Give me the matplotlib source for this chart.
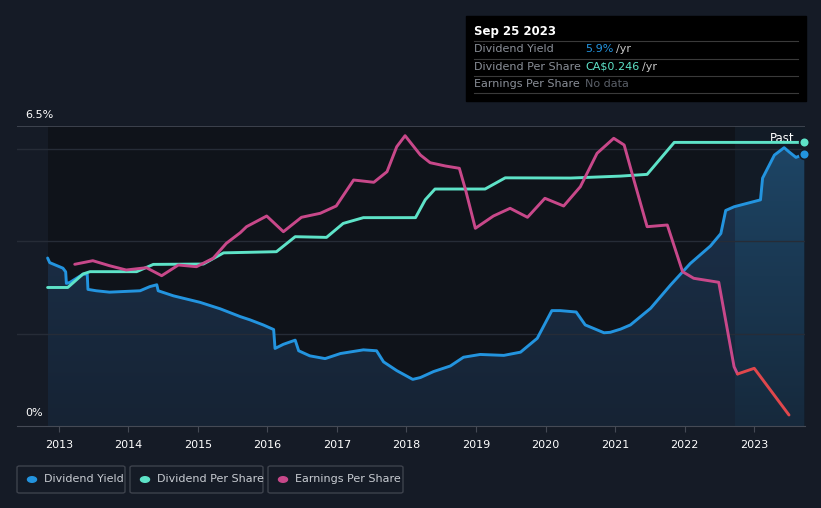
import numpy as np
import matplotlib.pyplot as plt
from matplotlib.patches import FancyBboxPatch, Rectangle
from matplotlib.colors import LinearSegmentedColormap

# values
yield_years = [2012.84, 2012.87, 2013.06, 2013.10, 2013.11, 2013.16, 2013.35, 2013.41, 2013.42,
               2013.54, 2013.73, 2014.17, 2014.31, 2014.41, 2014.43, 2014.65, 2015.03, 2015.32,
               2015.61, 2015.75, 2015.94, 2016.09, 2016.11, 2016.23, 2016.40, 2016.45, 2016.61,
               2016.83, 2017.05, 2017.38, 2017.57, 2017.67, 2017.86, 2018.09, 2018.20, 2018.39,
               2018.63, 2018.82, 2019.06, 2019.40, 2019.64, 2019.88, 2020.09, 2020.21, 2020.44,
               2020.57, 2020.84, 2020.93, 2021.08, 2021.22, 2021.51, 2021.80, 2022.08, 2022.37,
               2022.52, 2022.59, 2022.71, 2023.09, 2023.12, 2023.29, 2023.43, 2023.50, 2023.60,
               2023.72]
yield_pct = [3.64, 3.54, 3.42, 3.34, 3.09, 3.11, 3.29, 3.29, 2.96,
             2.93, 2.90, 2.93, 3.02, 3.06, 2.93, 2.82, 2.68, 2.54,
             2.37, 2.30, 2.19, 2.09, 1.68, 1.77, 1.86, 1.63, 1.52,
             1.46, 1.57, 1.65, 1.63, 1.39, 1.20, 1.01, 1.05, 1.18,
             1.30, 1.49, 1.55, 1.53, 1.60, 1.90, 2.50, 2.50, 2.47,
             2.19, 2.02, 2.03, 2.10, 2.19, 2.55, 3.06, 3.52, 3.90,
             4.17, 4.67, 4.75, 4.90, 5.37, 5.87, 6.03, 5.94, 5.82,
             5.89]

dps_years = [2012.84, 2013.13, 2013.35, 2013.45, 2014.12, 2014.36, 2015.08, 2015.37, 2016.13,
             2016.40, 2016.85, 2017.09, 2017.38, 2018.13, 2018.27, 2018.41, 2019.13, 2019.42,
             2020.36, 2021.08, 2021.46, 2021.85, 2023.72]
dps = [0.120, 0.120, 0.1317, 0.1337, 0.1337, 0.140, 0.1403, 0.150, 0.151,
       0.164, 0.1634, 0.1755, 0.1805, 0.1805, 0.196, 0.2053, 0.2053, 0.215,
       0.2148, 0.2165, 0.218, 0.2457, 0.2457]

eps_years = [2013.23, 2013.49, 2013.73, 2013.97, 2014.26, 2014.48, 2014.72, 2014.98, 2015.22,
             2015.41, 2015.61, 2015.70, 2015.99, 2016.23, 2016.49, 2016.76, 2016.99, 2017.24,
             2017.53, 2017.72, 2017.86, 2017.98, 2018.20, 2018.34, 2018.56, 2018.76, 2018.85,
             2018.99, 2019.25, 2019.49, 2019.74, 2019.99, 2020.26, 2020.50, 2020.74, 2020.98,
             2021.13, 2021.27, 2021.46, 2021.75, 2021.97, 2022.13, 2022.49, 2022.71, 2022.76,
             2023.00, 2023.50]
eps = [0.1617, 0.1653, 0.1603, 0.156, 0.1583, 0.1503, 0.161, 0.1593, 0.1677,
       0.1827, 0.1933, 0.1993, 0.21, 0.1943, 0.2087, 0.2127, 0.22, 0.246,
       0.2437, 0.2543, 0.2793, 0.2903, 0.271, 0.2633, 0.26, 0.2577, 0.236,
       0.1977, 0.21, 0.2177, 0.2087, 0.2277, 0.22, 0.2393, 0.2727, 0.2877,
       0.281, 0.246, 0.1993, 0.201, 0.1543, 0.1477, 0.1437, 0.0593, 0.052,
       0.0577, 0.011]

year_ticks = list(range(2013, 2024))
past_start = 2022.73

BG = '#151b26'
BLUE = '#2394df'
TEAL = '#5ee3c8'
PINK = '#c8488a'
RED = '#e0474c'

fig = plt.figure(figsize=(8.21, 5.08), dpi=100, facecolor=BG)
W, H = 821, 508
ax = fig.add_axes([17 / W, (H - 426) / H, (805 - 17) / W, 300 / H])
ax.set_facecolor(BG)
xmax = 2023.73
ax.set_xlim(2012.40, xmax)
ax.set_ylim(0, 6.5)

# shaded regions
ax.axvspan(yield_years[0], past_start, color='#0f131a', lw=0, zorder=0)
ax.axvspan(past_start, xmax, color='#121b26', lw=0, zorder=0)

# gradient fill under the yield line
poly = ax.fill_between(yield_years, yield_pct, 0, color='none', lw=0)
grad = np.linspace(0, 1, 256).reshape(-1, 1)
cm_main = LinearSegmentedColormap.from_list('m', ['#162334', '#1c3450'])
cm_past = LinearSegmentedColormap.from_list('p', ['#16293c', '#1e4768'])
for x0, x1, cm in [(yield_years[0], past_start, cm_main), (past_start, xmax, cm_past)]:
    im = ax.imshow(grad, cmap=cm, origin='lower', aspect='auto', extent=[x0, x1, 0, 6.5], zorder=1)
    im.set_clip_path(poly.get_paths()[0], transform=ax.transData)

for g in [2, 4, 6]:
    ax.axhline(g, color='#262c37', lw=1, zorder=2)
ax.axhline(6.5, color='#454a55', lw=1.2, zorder=2)

ax.plot(yield_years, yield_pct, color=BLUE, lw=2.1, zorder=5, solid_capstyle='round')

ax2 = ax.twinx()
ax2.set_ylim(0, 0.2599)
ax2.plot(dps_years, dps, color=TEAL, lw=2.1, zorder=4, solid_capstyle='round')

ax3 = ax.twinx()
ax3.set_ylim(0, 0.30)
ey = np.array(eps_years)
ev = np.array(eps)
cut = np.searchsorted(ey, past_start)
ax3.plot(ey[:cut + 1], ev[:cut + 1], color=PINK, lw=2.1, solid_capstyle='round')
ax3.plot(ey[cut:], ev[cut:], color=RED, lw=2.1, solid_capstyle='round')

# end markers
ax2.plot(dps_years[-1], dps[-1], 'o', ms=7, color=TEAL, mec=BG, mew=1.2, clip_on=False, zorder=6)
ax.plot(yield_years[-1], yield_pct[-1], 'o', ms=7, color=BLUE, mec=BG, mew=1.2, clip_on=False, zorder=6)
ax.text(2023.58, 6.08, 'Past', color='white', fontsize=8.5, ha='right', va='bottom', zorder=7)

for a in (ax, ax2, ax3):
    for s in a.spines.values():
        s.set_visible(False)
ax2.set_yticks([])
ax3.set_yticks([])
ax.set_yticks([])
ax.spines['bottom'].set_visible(True)
ax.spines['bottom'].set_color('#454a55')
ax.set_xticks(year_ticks)
ax.set_xticklabels([str(y) for y in year_ticks])
ax.tick_params(axis='x', colors='#454a55', length=4, labelcolor='white', labelsize=8, pad=6)

fig.text(25 / W, 1 - 115 / H, '6.5%', color='white', fontsize=8, va='center')
fig.text(25 / W, 1 - 413 / H, '0%', color='white', fontsize=8, va='center')

# tooltip box
fig.patches.append(Rectangle((466 / W, 1 - 101 / H), 340 / W, 85 / H, transform=fig.transFigure,
                             color='black', zorder=10))
fig.text(474 / W, 1 - 31 / H, 'Sep 25 2023', color='white', fontsize=8.5, fontweight='bold',
         va='center', zorder=11)
rows = [('Dividend Yield', '5.9%', BLUE), ('Dividend Per Share', 'CA$0.246', TEAL),
        ('Earnings Per Share', 'No data', '#5a5f68')]
for i, (lab, val, col) in enumerate(rows):
    yy = 1 - (49 + i * 17.5) / H
    fig.text(474 / W, yy, lab, color='#8a8f98', fontsize=8, va='center', zorder=11)
    t = fig.text(585 / W, yy, val, color=col, fontsize=8, va='center', zorder=11)
    if val != 'No data':
        fig.canvas.draw()
        bb = t.get_window_extent()
        fig.text((bb.x1 + 3) / W, yy, '/yr', color='#c8c8c8', fontsize=8, va='center', zorder=11)
    ly = 1 - (41 + i * 17.5) / H
    fig.lines.append(plt.Line2D([474 / W, 798 / W], [ly, ly], transform=fig.transFigure,
                                color='#3a3a3a', lw=0.8, zorder=11))
fig.lines.append(plt.Line2D([474 / W, 798 / W], [1 - 93 / H, 1 - 93 / H], transform=fig.transFigure,
                            color='#3a3a3a', lw=0.8, zorder=11))

# legend boxes
legend = [('Dividend Yield', BLUE, 17, 125), ('Dividend Per Share', TEAL, 130, 263),
          ('Earnings Per Share', PINK, 268, 403)]
for lab, col, x0, x1 in legend:
    fig.patches.append(FancyBboxPatch((x0 / W, 1 - 493 / H), (x1 - x0) / W, 27 / H,
                                      boxstyle='round,pad=0,rounding_size=0.003',
                                      transform=fig.transFigure, fc=BG, ec='#3d424c', lw=1))
    fig.patches.append(plt.Circle(((x0 + 15) / W, 1 - 479.5 / H), 4.5 / W, transform=fig.transFigure,
                                  color=col))
    fig.text((x0 + 27) / W, 1 - 479.5 / H, lab, color='#c8ccd2', fontsize=8, va='center')

fig.savefig('out.png', dpi=100, facecolor=BG)
